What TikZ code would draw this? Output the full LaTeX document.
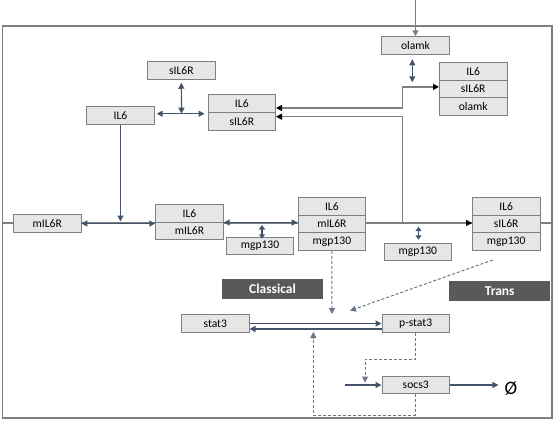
\documentclass[tikz,border=0pt]{standalone}
\usepackage{fontspec}
\setmainfont{Carlito}
\usetikzlibrary{arrows.meta}
\definecolor{pizarra}{HTML}{44546A}
\definecolor{gris}{HTML}{7F7F7F}
\definecolor{relleno}{HTML}{E6E6E6}
\definecolor{oscuro}{HTML}{595959}
\begin{document}
\begin{tikzpicture}[x=1pt,y=-1pt]
\tikzset{caja/.style={rectangle,minimum width=67.6pt,minimum height=17.7pt,inner sep=0pt,draw=gris,fill=relleno,line width=0.8pt,text=black,font=\fontsize{11.6}{12}\selectfont}}
\tikzset{etiq/.style={rectangle,minimum width=101pt,minimum height=20pt,inner sep=0pt,fill=oscuro,text=white,font=\fontsize{13.5}{14}\selectfont\bfseries}}
\tikzset{flecha/.style={pizarra,line width=1.2pt,-{Triangle[length=6pt,width=6pt]}}}
\tikzset{doble/.style={pizarra,line width=1.2pt,{Triangle[length=6pt,width=6pt]}-{Triangle[length=6pt,width=6pt]}}}
\tikzset{gflecha/.style={gris,line width=1.2pt,-{Triangle[length=6pt,width=6pt]}}}
\tikzset{gdoble/.style={gris,line width=1.2pt,{Triangle[length=6pt,width=6pt,color=black]}-{Triangle[length=6pt,width=6pt,color=black]}}}
\tikzset{punteada/.style={pizarra!80,line width=1pt,dash pattern=on 3pt off 2pt,-{Triangle[length=6pt,width=6pt]}}}

  \useasboundingbox (0,0) rectangle (555,423);
  % frame and membrane
  \draw[gris,line width=1.6pt] (2.3,25.7) rectangle (551.7,418);
  \draw[gris,line width=1.3pt] (2.3,223) -- (551.7,223);

  % outside the membrane
  \draw (181.3,70.5) node[caja](sr){sIL6R};
  \draw (120.5,115.5) node[caja](il){IL6};
  \draw (241.8,103.5) node[caja](cs1){IL6};
  \draw (241.8,121.2) node[caja](cs2){sIL6R};
  \draw (415.5,45.5) node[caja](ol){olamk};
  \draw (473.2,71.2) node[caja](os1){IL6};
  \draw (473.2,88.9) node[caja](os2){sIL6R};
  \draw (473.2,106.6) node[caja](os3){olamk};

  % on the membrane
  \draw (47.2,223.5) node[caja](mr){mIL6R};
  \draw (189.5,213.3) node[caja](cm1){IL6};
  \draw (189.5,231) node[caja](cm2){mIL6R};
  \draw (260,246) node[caja](ga){mgp130};
  \draw (331.9,206.3) node[caja](cl1){IL6};
  \draw (331.9,224) node[caja](cl2){mIL6R};
  \draw (331.9,241.7) node[caja](cl3){mgp130};
  \draw (417.8,252) node[caja](gb){mgp130};
  \draw (506.2,206.3) node[caja](tr1){IL6};
  \draw (506.2,224) node[caja](tr2){sIL6R};
  \draw (506.2,241.7) node[caja](tr3){mgp130};
  \draw (272.5,289) node[etiq](lc){Classical};
  \draw (499.7,291) node[etiq](lt){Trans};

  % inside the cell
  \draw (215.3,323.5) node[caja](st){stat3};
  \draw (415.7,323.5) node[caja](ps){p-stat3};
  \draw (415.7,385) node[caja](so){socs3};
  \draw (511,389) node[inner sep=0pt,font=\fontsize{19}{20}\selectfont](nl){Ø};

  \coordinate (olin) at (415.5,0);
  \coordinate (qa) at (412.3,59.3);
  \coordinate (qb) at (412.3,82.3);
  \coordinate (ja) at (181.5,113.7);
  \coordinate (ma) at (120.5,221.5);
  \coordinate (gam) at (262,225);
  \coordinate (gbm) at (418.5,226.7);
  \coordinate (ka) at (402.3,108);
  \coordinate (kb) at (402.3,116.7);
  \coordinate (da) at (332,314);
  \coordinate (db0) at (492.7,260);
  \coordinate (db) at (350,310.7);
  \coordinate (kc) at (365,359);
  \coordinate (dc) at (365,382.5);
  \coordinate (sin) at (345,385);
  \coordinate (kd) at (313.3,415);
  \coordinate (dd) at (313.3,332);

  \draw[gflecha] (olin) -- (ol.north);
  \draw[doble] (qa) -- (qb);
  \draw[doble,shorten <=3pt] (sr.south) -- (ja);
  \draw[doble,shorten <=2pt,shorten >=3pt] ([yshift=1.8pt]il.east) -- ([yshift=1.8pt]il.east -| cs2.west);
  \draw[flecha] (il.south) -- (ma);
  \draw[gdoble] ([yshift=-4.5pt]cs1.east) -- (ka) |- ([yshift=2pt]os2.west);
  \draw[gdoble] ([yshift=4.5pt]cs2.east) -- (kb) |- ([yshift=1pt]tr2.west);

  \draw[doble,line width=1.6pt] (mr.east) -- (mr.east -| cm1.west);
  \draw[doble,line width=1.6pt] (cm1.south east) -- (cm1.south east -| cl2.west);
  \draw[doble,{Triangle[length=4.5pt,width=6pt]}-{Triangle[length=4.5pt,width=6pt]}] (gam) -- ([xshift=2pt,yshift=-2pt]ga.north);
  \draw[doble,{Triangle[length=4.5pt,width=6pt]}-{Triangle[length=4.5pt,width=6pt]},shorten >=3pt] (gbm) -- ([xshift=0.7pt]gb.north);

  \draw[punteada] (cl3.south) -- (da);
  \draw[punteada] (db0) -- (db);
  \draw[flecha] (st.east) -- (ps.west);
  \draw[flecha] ([yshift=-5.5pt]ps.west) -- ([yshift=-5.5pt]st.east);
  \draw[punteada] (ps.south) |- (kc) -- (dc);
  \draw[flecha] (sin) -- (so.west);
  \draw[flecha,shorten >=6pt] (so.east) -- (so.east -| nl.west);
  \draw[punteada] (so.south) |- (kd) -- (dd);

\end{tikzpicture}
\end{document}
